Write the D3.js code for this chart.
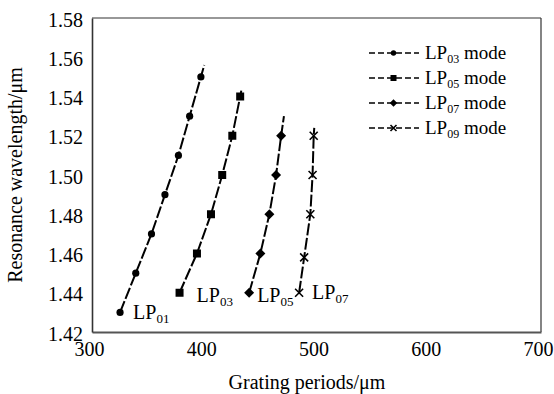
<!DOCTYPE html>
<html><head><meta charset="utf-8">
<script src="https://cdn.jsdelivr.net/npm/d3@7"></script>
<style>body{margin:0;background:#fff}svg{display:block}text{font-family:"Liberation Serif","Times New Roman",serif;fill:#000}</style>
</head><body><svg id="c" width="554" height="394"></svg>
<script>
// ---- data ----
const xTicks = [300, 400, 500, 600, 700];
const yTicks = [1.42, 1.44, 1.46, 1.48, 1.50, 1.52, 1.54, 1.56, 1.58];
const seriesNames = ["LP03", "LP05", "LP07", "LP09"];
const seriesShapes = ["circle", "square", "diamond", "cross"];
const lp03X = [325, 339, 353, 365, 377, 387, 397];
const lp03Y = [1.43, 1.45, 1.47, 1.49, 1.51, 1.53, 1.55];
const lp05X = [378, 393.5, 406, 416, 425, 432];
const lp05Y = [1.44, 1.46, 1.48, 1.50, 1.52, 1.54];
const lp07X = [440, 450, 458, 464, 468.5];
const lp07Y = [1.44, 1.46, 1.48, 1.50, 1.52];
const lp09X = [484.5, 489, 494.5, 496.5, 497.5];
const lp09Y = [1.44, 1.458, 1.48, 1.50, 1.52];
// where each fitted line ends (above last point)
const lineEndX = [400, 433, 471, 498];
const lineEndY = [1.556, 1.543, 1.530, 1.524];
const annoLabels = ["LP01", "LP03", "LP05", "LP07"];

const svg = d3.select("#c");
const L = 92, R = 541, T = 18, B = 332;
const x = d3.scaleLinear().domain([300, 700]).range([L, R]);
const y = d3.scaleLinear().domain([1.42, 1.58]).range([B, T]);

const seriesX = [lp03X, lp05X, lp07X, lp09X];
const seriesY = [lp03Y, lp05Y, lp07Y, lp09Y];

// frame
svg.append("line").attr("x1", L).attr("x2", R).attr("y1", T).attr("y2", T).attr("stroke", "#333").attr("stroke-width", 1.2);
svg.append("line").attr("x1", R).attr("x2", R).attr("y1", T).attr("y2", B).attr("stroke", "#333").attr("stroke-width", 1.2);

// axes
const xAxis = svg.append("g").attr("transform", `translate(0,${B})`)
  .call(d3.axisBottom(x).tickValues(xTicks).tickSize(0).tickPadding(10).tickFormat(d3.format("d")));
xAxis.select(".domain").attr("stroke", "#555").attr("stroke-width", 2);
xAxis.selectAll("text").attr("font-size", 20).attr("font-family", "Liberation Serif").attr("fill", "#000").attr("dx", "-3");

const yAxis = svg.append("g").attr("transform", `translate(${L},0)`)
  .call(d3.axisLeft(y).tickValues(yTicks).tickSize(0).tickPadding(9).tickFormat(d3.format(".2f")));
yAxis.select(".domain").attr("stroke", "#333").attr("stroke-width", 1.6);
yAxis.selectAll("text").attr("font-size", 20).attr("font-family", "Liberation Serif").attr("fill", "#000").attr("dy", "0.4em");

// axis titles
svg.append("text").attr("x", 307).attr("y", 389).attr("text-anchor", "middle").attr("font-size", 20).text("Grating periods/μm");
svg.append("text").attr("transform", `translate(22,${(T + B) / 2}) rotate(-90)`).attr("text-anchor", "middle").attr("font-size", 20).text("Resonance wavelength/μm");

// marker drawer
function marker(g, shape, cx, cy, s) {
  if (shape === "circle") g.append("circle").attr("cx", cx).attr("cy", cy).attr("r", 3.6 * s).attr("fill", "#000");
  else if (shape === "square") g.append("rect").attr("x", cx - 4 * s).attr("y", cy - 4 * s).attr("width", 8 * s).attr("height", 8 * s).attr("fill", "#000");
  else if (shape === "diamond") g.append("path").attr("d", `M${cx},${cy - 5 * s}L${cx + 5 * s},${cy}L${cx},${cy + 5 * s}L${cx - 5 * s},${cy}Z`).attr("fill", "#000");
  else {
    const r = 4 * s;
    g.append("path").attr("d", `M${cx - r},${cy - r}L${cx + r},${cy + r}M${cx - r},${cy + r}L${cx + r},${cy - r}`).attr("stroke", "#000").attr("stroke-width", 1.6).attr("fill", "none");
  }
}

const line = d3.line().x(d => x(d[0])).y(d => y(d[1]));
seriesX.forEach((xs, i) => {
  const pts = xs.map((v, j) => [v, seriesY[i][j]]);
  pts.push([lineEndX[i], lineEndY[i]]);
  svg.append("path").attr("d", line(pts)).attr("fill", "none").attr("stroke", "#000").attr("stroke-width", 2).attr("stroke-dasharray", "12,2.5");
  const g = svg.append("g");
  xs.forEach((v, j) => marker(g, seriesShapes[i], x(v), y(seriesY[i][j]), 1));
});

// annotations near first point of each series
const annoOff = [[13, 7], [17, 9], [8, 9], [13, 6]];
annoLabels.forEach((lab, i) => {
  const t = svg.append("text").attr("x", x(seriesX[i][0]) + annoOff[i][0]).attr("y", y(seriesY[i][0]) + annoOff[i][1]).attr("font-size", 20);
  t.append("tspan").text(lab.slice(0, 2));
  t.append("tspan").attr("font-size", 13).attr("dy", 4).text(lab.slice(2));
});

// legend
const legY0 = 53, legDy = 25;
seriesNames.forEach((n, i) => {
  const yy = legY0 + i * legDy;
  svg.append("line").attr("x1", 369).attr("x2", 419).attr("y1", yy).attr("y2", yy).attr("stroke", "#000").attr("stroke-width", 1.5).attr("stroke-dasharray", "6,3");
  marker(svg.append("g"), seriesShapes[i], 393.5, yy, 0.75);
  const t = svg.append("text").attr("x", 425).attr("y", yy + 6).attr("font-size", 19);
  t.append("tspan").text(n.slice(0, 2));
  t.append("tspan").attr("font-size", 12).attr("dy", 4).text(n.slice(2));
  t.append("tspan").attr("dy", -4).text(" mode");
});
</script></body></html>
